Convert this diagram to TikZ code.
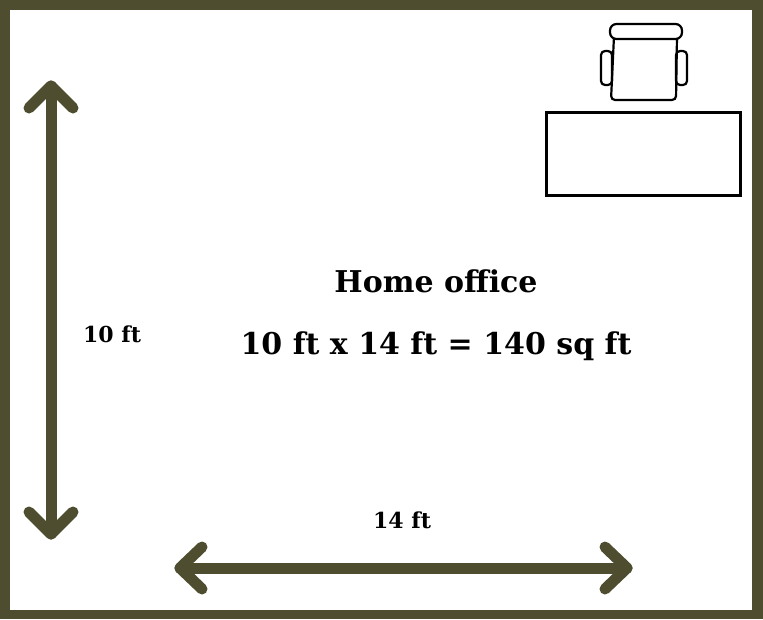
\documentclass[tikz,border=0pt]{standalone}
\usepackage{fontspec}
\setmainfont{DejaVu Serif}
\definecolor{olive}{HTML}{4E4D2F}
\begin{document}
\begin{tikzpicture}[x=1pt,y=-1pt,
  arr/.style={draw=olive,line width=11pt,line cap=round,line join=round},
  blk/.style={draw=black,line width=2.2pt,rounded corners=4pt}]
\useasboundingbox (0,0) rectangle (763,619);
\fill[olive] (0,0) rectangle (763,619);
\fill[white] (10,10) rectangle (752,610);
% vertical arrow
\coordinate (vt) at (51,86); \coordinate (vb) at (51,534);
\draw[arr] (vt) -- (vb);
\draw[arr] (29,108) -- (vt) -- (73,108);
\draw[arr] (29,512) -- (vb) -- (73,512);
% horizontal arrow
\coordinate (hl) at (180,568); \coordinate (hr) at (627,568);
\draw[arr] (hl) -- (hr);
\draw[arr] (202,547) -- (hl) -- (202,589);
\draw[arr] (605,547) -- (hr) -- (605,589);
% desk
\node[draw=black,line width=3pt,minimum width=194pt,minimum height=83pt,inner sep=0pt] (desk) at (643.5,154) {};
% chair
\draw[blk] (614,36) -- (677,36) -- (676,100) -- (611,100) -- cycle;
\draw[black,line width=2.2pt,fill=white,rounded corners=6.5pt] (610,24) rectangle (682,39);
\draw[blk] (601,51) rectangle (612,85);
\draw[blk] (676,51) rectangle (687,85);
% texts
\node[font=\bfseries\fontsize{30}{36}\selectfont] (t1) at (436,281) {Home office};
\node[font=\bfseries\fontsize{30}{36}\selectfont] (t2) at (436,346) {10 ft x 14 ft = 140 sq ft};
\node[font=\bfseries\fontsize{22}{28}\selectfont] (l1) at (112,334) {10 ft};
\node[font=\bfseries\fontsize{22}{28}\selectfont] (l2) at (402,520) {14 ft};
\end{tikzpicture}
\end{document}
